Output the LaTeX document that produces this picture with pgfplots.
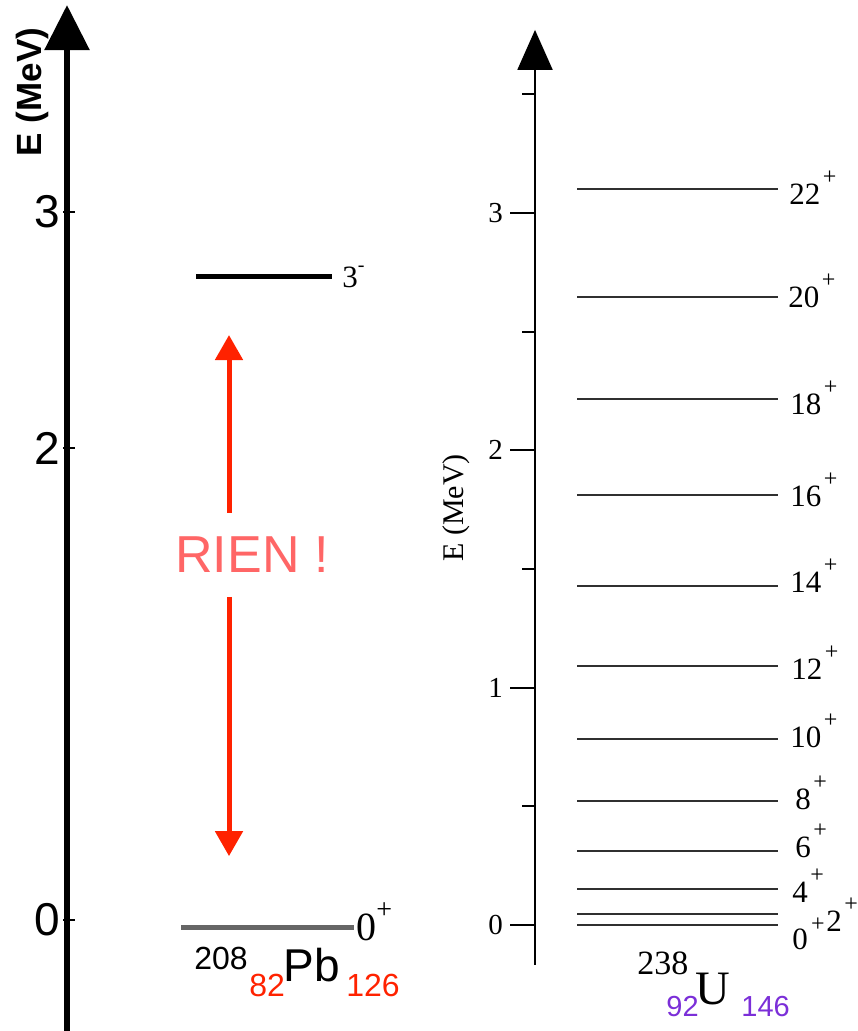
\documentclass[border=0pt]{standalone}
\usepackage{pgfplots}
\pgfplotsset{compat=1.18}
\usetikzlibrary{arrows.meta}
\usepackage{fontspec}
\setmainfont{Liberation Serif}
\newfontfamily\arial{Liberation Sans}
\definecolor{rarrow}{HTML}{FF2200}
\definecolor{rien}{HTML}{FF6666}
\definecolor{purp}{HTML}{7B2FD8}
\definecolor{gline}{HTML}{666666}
\definecolor{lvl}{HTML}{303030}
\newcommand{\fs}[1]{\fontsize{#1}{#1}\selectfont}
\newcommand{\lab}[3]{\node[anchor=base west,inner sep=0pt] at (#1,#2) {\fs{15.5}#3\kern1.2pt\raisebox{10pt}{\fs{12}+}};}

\begin{document}
\begin{tikzpicture}
\useasboundingbox (0,0) rectangle (428.5pt,515.5pt);

% ---------------- left panel: 208Pb ----------------
\begin{axis}[
  at={(33.5pt,0pt)}, anchor=south west,
  scale only axis, x=0.5pt, y=118pt,
  xmin=67, xmax=420, ymin=-0.470, ymax=3.877,
  axis x line=none, axis y line=left,
  y axis line style={line width=3pt, -{Triangle[width=22pt,length=22.5pt]}},
  every outer y axis line/.append style={-{Triangle[width=22pt,length=22.5pt]}},
  ytick={0,2,3},
  tick align=center, major tick length=6pt,
  ytick style={line width=1pt, black, xshift=1.2pt},
  /pgf/number format/assume math mode=true,
  yticklabel style={font=\arial\fs{23}, xshift=3pt},
  clip=false, no markers,
]
\addplot[black, line width=2.5pt] coordinates {(196,2.725) (332,2.725)};
\addplot[gline, line width=2.5pt] coordinates {(181,-0.030) (354,-0.030)};
\addplot[rarrow, line width=2.5pt, -{Triangle[width=13.5pt,length=12.5pt]}] coordinates {(229,1.725) (229,2.479)};
\addplot[rarrow, line width=2.5pt, -{Triangle[width=13.5pt,length=12.5pt]}] coordinates {(229,1.369) (229,0.271)};
\end{axis}

% ---------------- right panel: 238U ----------------
\begin{axis}[
  at={(267.5pt,33pt)}, anchor=south west,
  scale only axis, x=0.5pt, y=118.65pt,
  xmin=535, xmax=857, ymin=-0.1686, ymax=3.772,
  axis x line=none, axis y line=left,
  y axis line style={line width=1pt, -{Triangle[width=17.5pt,length=20pt]}},
  every outer y axis line/.append style={-{Triangle[width=17.5pt,length=20pt]}},
  ytick={0,1,2,3}, minor ytick={0.5,1.5,2.5,3.5},
  tick align=outside, major tick length=12.5pt, minor tick length=6.5pt,
  ytick style={line width=1pt, black},
  /pgf/number format/assume math mode=true,
  yticklabel style={font=\fs{14.5}},
  clip=false, no markers,
]
\addplot[lvl, line width=1pt] coordinates {(577,3.102) (778,3.102)};
\addplot[lvl, line width=1pt] coordinates {(577,2.646) (778,2.646)};
\addplot[lvl, line width=1pt] coordinates {(577,2.217) (778,2.217)};
\addplot[lvl, line width=1pt] coordinates {(577,1.812) (778,1.812)};
\addplot[lvl, line width=1pt] coordinates {(577,1.429) (778,1.429)};
\addplot[lvl, line width=1pt] coordinates {(577,1.091) (778,1.091)};
\addplot[lvl, line width=1pt] coordinates {(577,0.784) (778,0.784)};
\addplot[lvl, line width=1pt] coordinates {(577,0.523) (778,0.523)};
\addplot[lvl, line width=1pt] coordinates {(577,0.312) (778,0.312)};
\addplot[lvl, line width=1pt] coordinates {(577,0.152) (778,0.152)};
\addplot[lvl, line width=1pt] coordinates {(577,0.046) (778,0.046)};
\addplot[lvl, line width=1pt] coordinates {(577,0.000) (778,0.000)};
\end{axis}

% ---------------- text (pixel coordinates) ----------------
\begin{scope}[x=0.5pt, y=-0.5pt, yshift=515.5pt]
% left
\node[rotate=90, inner sep=0pt] at (32,92) {\arial\bfseries\fs{17.5}E (MeV)};
\node[inner sep=0pt, text=rien] at (252,555) {\arial\fs{26}RIEN !};
\node[anchor=base west, inner sep=0pt] at (342,288) {\fs{15.5}3\raisebox{8pt}{\fs{10}-}};
\node[anchor=base west, inner sep=0pt] at (356,941) {\fs{20}0\raisebox{11pt}{\fs{14}+}};
\node[anchor=base west, inner sep=0pt] at (194,970) {\arial\fs{16}208};
\node[anchor=base west, inner sep=0pt, text=rarrow] at (249,997) {\arial\fs{16}82};
\node[anchor=base west, inner sep=0pt] at (283,982) {\arial\fs{23}Pb};
\node[anchor=base west, inner sep=0pt, text=rarrow] at (346,997) {\arial\fs{16}126};
% right
\node[rotate=90, inner sep=0pt] at (456,508) {\fs{15}E (MeV)};
\lab{789}{205}{22}
\lab{788}{308}{20}
\lab{790}{415}{18}
\lab{790}{507}{16}
\lab{790}{593}{14}
\lab{791}{680}{12}
\lab{790}{748}{10}
\lab{795}{810}{8}
\lab{795}{858}{6}
\lab{792}{903}{4}
\node[anchor=base west, inner sep=0pt] at (792,950) {\fs{15.5}0};
\node[inner sep=0pt] at (818,925) {\fs{12}+};
\node[anchor=base west, inner sep=0pt] at (826,932) {\fs{15.5}2};
\node[inner sep=0pt] at (851,905) {\fs{12}+};
\node[anchor=base west, inner sep=0pt] at (637,975) {\fs{17}238};
\node[anchor=base west, inner sep=0pt] at (695,1005) {\fs{24}U};
\node[anchor=base west, inner sep=0pt, text=purp] at (666,1017) {\arial\fs{14.5}92};
\node[anchor=base west, inner sep=0pt, text=purp] at (741,1017) {\arial\fs{14.5}146};
\end{scope}
\end{tikzpicture}
\end{document}
